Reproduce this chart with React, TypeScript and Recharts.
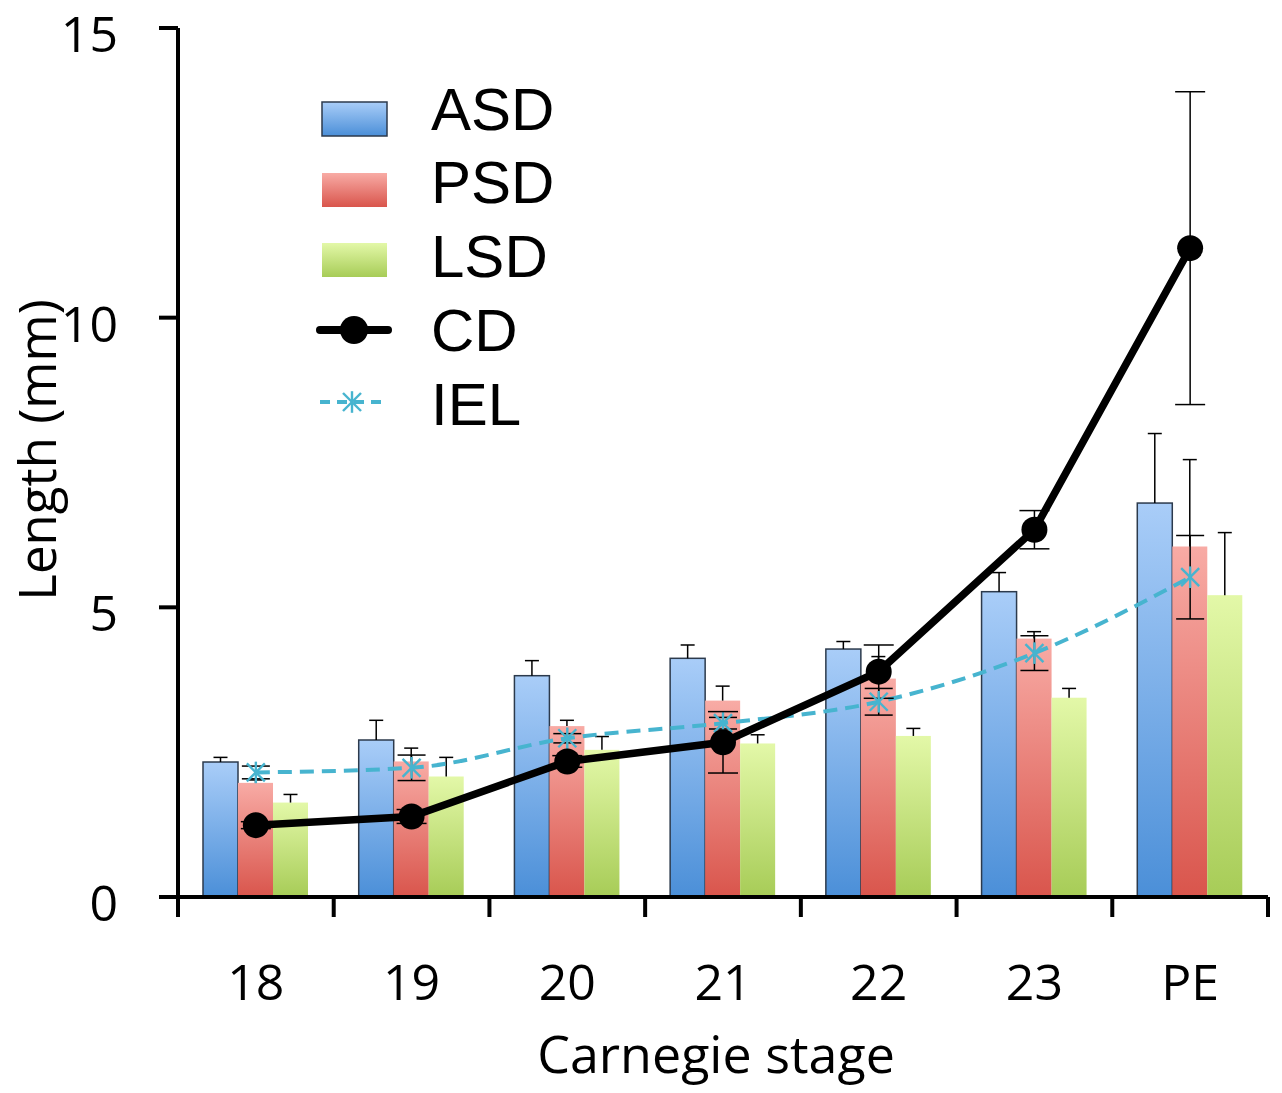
import React from 'react';
import { ComposedChart, Bar, Line, XAxis, YAxis, ErrorBar } from 'recharts';

// values (mm)
const stages = ['18', '19', '20', '21', '22', '23', 'PE'];
const asd = [2.33, 2.71, 3.82, 4.12, 4.28, 5.27, 6.8];
const asdErr = [0.08, 0.34, 0.26, 0.23, 0.13, 0.33, 1.2];
const psd = [1.97, 2.34, 2.95, 3.39, 3.77, 4.46, 6.05];
const psdErr = [0.05, 0.23, 0.1, 0.25, 0.38, 0.12, 1.5];
const lsd = [1.63, 2.08, 2.54, 2.65, 2.78, 3.44, 5.21];
const lsdErr = [0.14, 0.33, 0.23, 0.15, 0.13, 0.16, 1.08];
const cd = [1.24, 1.39, 2.34, 2.67, 3.89, 6.34, 11.2];
const cdErr = [0.06, 0.12, 0.1, 0.53, 0.46, 0.33, 2.7];
const iel = [2.15, 2.23, 2.74, 3.0, 3.37, 4.21, 5.52];
const ielErr = [0.11, 0.22, 0.08, 0.1, 0.23, 0.3, 0.72];
const yTicks = [0, 5, 10, 15];

const seriesNames = ['ASD', 'PSD', 'LSD', 'CD', 'IEL'];

const data = stages.map((s, i) => ({
  stage: s,
  ASD: asd[i], asdErr: asdErr[i],
  PSD: psd[i], psdErr: psdErr[i],
  LSD: lsd[i], lsdErr: lsdErr[i],
  CD: cd[i], cdErr: cdErr[i],
  IEL: iel[i], ielErr: ielErr[i],
}));

const W = 1282;
const H = 1093;
const FONT = '"Open Sans", sans-serif';
const IEL_COLOR = '#47b4cf';

// bar with a plus-only whisker, like the Excel original
const barShape = (gradId: string, errKey: string, border: boolean) => (props: any) => {
  const { x, y, width, height, payload, value } = props;
  const v = Array.isArray(value) ? value[1] - value[0] : value;
  const err = payload[errKey] || 0;
  const errPx = v ? (err / v) * height : 0;
  const cx = x + width / 2;
  return (
    <g>
      <rect x={x} y={y} width={width} height={height} fill={`url(#${gradId})`}
        stroke={border ? '#2c3a4c' : 'none'} strokeWidth={border ? 1.5 : 0} />
      {errPx > 0 && (
        <g stroke="#000" strokeWidth={1.5}>
          <line x1={cx} y1={y} x2={cx} y2={y - errPx} />
          <line x1={cx - 7} y1={y - errPx} x2={cx + 7} y2={y - errPx} />
        </g>
      )}
    </g>
  );
};

const Asterisk = ({ cx, cy, r = 9, sw = 2.4 }: { cx: number; cy: number; r?: number; sw?: number }) => (
  <g stroke={IEL_COLOR} strokeWidth={sw}>
    <line x1={cx - r} y1={cy - r} x2={cx + r} y2={cy + r} />
    <line x1={cx - r} y1={cy + r} x2={cx + r} y2={cy - r} />
    <line x1={cx} y1={cy - r * 1.2} x2={cx} y2={cy + r * 1.2} />
  </g>
);

const YTick = (props: any) => {
  const { x, y, payload } = props;
  return (
    <text x={x} y={y} dy={24} textAnchor="end" fontFamily={FONT} fontSize={50} fill="#000">
      {payload.value}
    </text>
  );
};

const XTick = (props: any) => {
  const { x, y, payload, index, visibleTicksCount } = props;
  const half = payload.offset || 1090 / 14;
  const last = index === visibleTicksCount - 1;
  return (
    <g>
      <line x1={x - half} y1={y} x2={x - half} y2={y + 20} stroke="#000" strokeWidth={4} />
      {last && <line x1={x + half} y1={y} x2={x + half} y2={y + 20} stroke="#000" strokeWidth={4} />}
      <text x={x} y={y + 103} textAnchor="middle" fontFamily={FONT} fontSize={50} fill="#000">
        {payload.value}
      </text>
    </g>
  );
};

const yTitle = () => (
  <text x={56} y={450} transform="rotate(-90 56 450)" textAnchor="middle"
    fontFamily={FONT} fontSize={51} fill="#000">
    Length (mm)
  </text>
);

const xTitle = (props: any) => {
  const vb = props.viewBox || {};
  const cx = (vb.x ?? 178) + (vb.width ?? 1090) / 2 - 7;
  return (
    <text x={cx} y={1073} textAnchor="middle" fontFamily={FONT} fontSize={52} fill="#000">
      Carnegie stage
    </text>
  );
};

const legendMarkY = [119, 190, 260, 330, 402];
const legendTextY = [130, 203, 277, 351, 425];

const LegendBox = () => (
  <svg width={W} height={H} style={{ position: 'absolute', left: 0, top: 0, pointerEvents: 'none' }}>
    <defs>
      <linearGradient id="gASDL" x1="0" y1="0" x2="0" y2="1">
        <stop offset="0%" stopColor="#a9cdf8" /><stop offset="100%" stopColor="#4b8fd8" />
      </linearGradient>
      <linearGradient id="gPSDL" x1="0" y1="0" x2="0" y2="1">
        <stop offset="0%" stopColor="#f8aba5" /><stop offset="100%" stopColor="#d9554c" />
      </linearGradient>
      <linearGradient id="gLSDL" x1="0" y1="0" x2="0" y2="1">
        <stop offset="0%" stopColor="#e3f8a8" /><stop offset="100%" stopColor="#a7cc57" />
      </linearGradient>
    </defs>
    {seriesNames.map((name, i) => {
      const my = legendMarkY[i];
      let mark: React.ReactNode = null;
      if (i < 3) {
        const g = ['gASD', 'gPSD', 'gLSD'][i];
        mark = <rect x={322} y={my - 17} width={65} height={34} fill={`url(#${g}L)`}
          stroke={i === 0 ? '#2c3a4c' : 'none'} strokeWidth={1.5} />;
      } else if (i === 3) {
        mark = (
          <g>
            <line x1={320} y1={my} x2={388} y2={my} stroke="#000" strokeWidth={8} strokeLinecap="round" />
            <circle cx={354} cy={my} r={14} fill="#000" />
          </g>
        );
      } else {
        mark = (
          <g>
            <line x1={320} y1={my} x2={388} y2={my} stroke={IEL_COLOR} strokeWidth={4} strokeDasharray="10 7" />
            <Asterisk cx={352} cy={my} r={9} sw={2.4} />
          </g>
        );
      }
      return (
        <g key={name}>
          {mark}
          <text x={431} y={legendTextY[i]} fontFamily='"Liberation Sans", Arial, sans-serif' fontSize={60} fill="#000">
            {name}
          </text>
        </g>
      );
    })}
  </svg>
);

export default function App() {
  return (
    <div style={{ position: 'absolute', left: 0, top: 0, width: W, height: H, background: '#fff' }}>
      <ComposedChart width={W} height={H} data={data} barGap={0} barCategoryGap="16%"
        margin={{ top: 28, right: 14, bottom: 0, left: 0 }}>
        <defs>
          <linearGradient id="gASD" x1="0" y1="0" x2="0" y2="1">
            <stop offset="0%" stopColor="#a9cdf8" /><stop offset="100%" stopColor="#4b8fd8" />
          </linearGradient>
          <linearGradient id="gPSD" x1="0" y1="0" x2="0" y2="1">
            <stop offset="0%" stopColor="#f8aba5" /><stop offset="100%" stopColor="#d9554c" />
          </linearGradient>
          <linearGradient id="gLSD" x1="0" y1="0" x2="0" y2="1">
            <stop offset="0%" stopColor="#e3f8a8" /><stop offset="100%" stopColor="#a7cc57" />
          </linearGradient>
        </defs>
        <XAxis dataKey="stage" height={196} tickLine={false} tickSize={0} tickMargin={0}
          axisLine={{ stroke: '#000', strokeWidth: 4 }} tick={<XTick />} interval={0}
          label={xTitle} />
        <YAxis width={178} domain={[0, 15]} ticks={yTicks} interval={0}
          tickSize={19} tickMargin={41}
          axisLine={{ stroke: '#000', strokeWidth: 4 }}
          tickLine={{ stroke: '#000', strokeWidth: 4 }}
          tick={<YTick />} label={yTitle} />
        <Bar dataKey="ASD" barSize={35} isAnimationActive={false} shape={barShape('gASD', 'asdErr', true)} />
        <Bar dataKey="PSD" barSize={35} isAnimationActive={false} shape={barShape('gPSD', 'psdErr', false)} />
        <Bar dataKey="LSD" barSize={35} isAnimationActive={false} shape={barShape('gLSD', 'lsdErr', false)} />
        <Line dataKey="IEL" type="monotone" stroke={IEL_COLOR} strokeWidth={4} strokeDasharray="14 8"
          isAnimationActive={false}
          dot={(p: any) => <Asterisk key={`iel-${p.index}`} cx={p.cx} cy={p.cy} />}>
          <ErrorBar dataKey="ielErr" width={14} stroke="#000" strokeWidth={1.5} direction="y" />
        </Line>
        <Line dataKey="CD" type="linear" stroke="#000" strokeWidth={7.5} isAnimationActive={false}
          dot={{ r: 13, fill: '#000', stroke: '#000', strokeWidth: 0 }} activeDot={false}>
          <ErrorBar dataKey="cdErr" width={15} stroke="#000" strokeWidth={1.5} direction="y" />
        </Line>
      </ComposedChart>
      <LegendBox />
    </div>
  );
}
